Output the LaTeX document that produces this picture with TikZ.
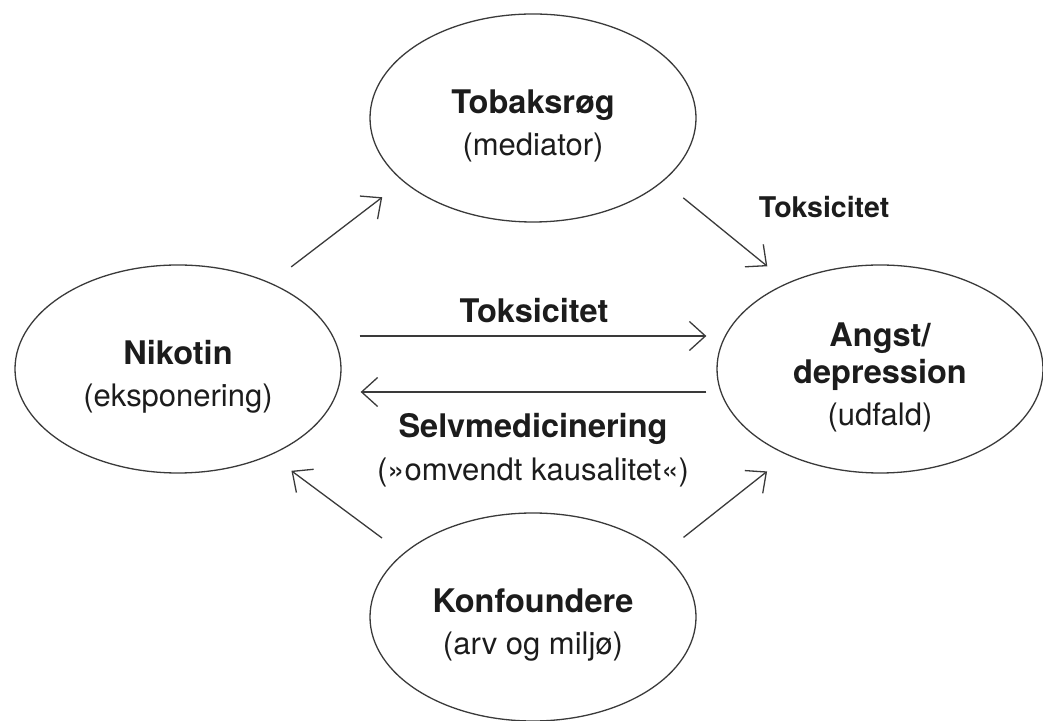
\documentclass[tikz,border=0pt]{standalone}
\usepackage{fontspec}
\setmainfont{TeX Gyre Heros}
\usetikzlibrary{shapes.geometric,arrows.meta}
\definecolor{inkgray}{HTML}{1C1C1C}
\definecolor{linegray}{HTML}{3A3A3A}

\begin{document}
\begin{tikzpicture}[x=1pt,y=1pt]
    \pgfmathsetmacro{\ovalwidth}{326}
    \pgfmathsetmacro{\ovalheight}{208}
    \pgfmathsetmacro{\gap}{26}  % space between an oval and a slanted arrow
    \providecommand{\headfont}{\fontsize{32.5}{41}\selectfont\bfseries}
    \providecommand{\subfont}{\fontsize{31}{41}\selectfont}
    \providecommand{\sideheadfont}{\fontsize{28.5}{34}\selectfont\bfseries}
    \providecommand{\topstrut}{\rule{0pt}{40pt}}
    \tikzset{
        oval/.style={ellipse,draw=linegray,line width=1.3pt,inner sep=0,
            minimum width=\ovalwidth pt,minimum height=\ovalheight pt,
            align=center,text=inkgray,font=\fontsize{31}{42}\selectfont},
        arr/.style={draw=linegray,line width=1.3pt,-{Straight Barb[length=16pt,width=29pt]}},
        slant/.style={arr,shorten <=\gap pt,shorten >=\gap pt},
        lbl/.style={text=inkgray,inner sep=0,align=center,font=\fontsize{31}{41}\selectfont},
    }
    \useasboundingbox (0,0) rectangle (1043,720);
    \node[oval] (tob) at (533,602) {\topstrut{\headfont Tobaksrøg}\\{\subfont (mediator)}};
    \node[oval] (nik) at (178,351) {\topstrut{\headfont Nikotin}\\{\subfont (eksponering)}};
    \node[oval] (ang) at (880,351) {\topstrut{\headfont Angst/}\\[-5pt]{\headfont depression}\\{\subfont (udfald)}};
    \node[oval] (konf) at (533,103) {\topstrut{\headfont Konfoundere}\\{\subfont (arv og miljø)}};
    \draw[slant] (nik.43) -- (tob.206);
    \draw[slant] (tob.334) -- (ang.137)
        node[lbl,pos=.5,anchor=base west,xshift=33pt,yshift=15pt] {\sideheadfont Toksicitet};
    \draw[slant] (konf.154) -- (nik.317);
    \draw[slant] (konf.26) -- (ang.223);
    \draw[arr,shorten <=18pt,shorten >=10pt] ([yshift=33pt]nik.east) -- ([yshift=33pt]ang.west)
        node[lbl,pos=.5,anchor=base,xshift=5pt,yshift=13pt] {\headfont Toksicitet};
    \draw[arr,shorten <=10pt,shorten >=19pt] ([yshift=-23pt]ang.west) -- ([yshift=-23pt]nik.east)
        node[lbl,pos=.5,anchor=north,xshift=4pt,yshift=-21pt] {{\headfont Selvmedicinering}\\[2pt]{\subfont (»omvendt kausalitet«)}};
\end{tikzpicture}
\end{document}
